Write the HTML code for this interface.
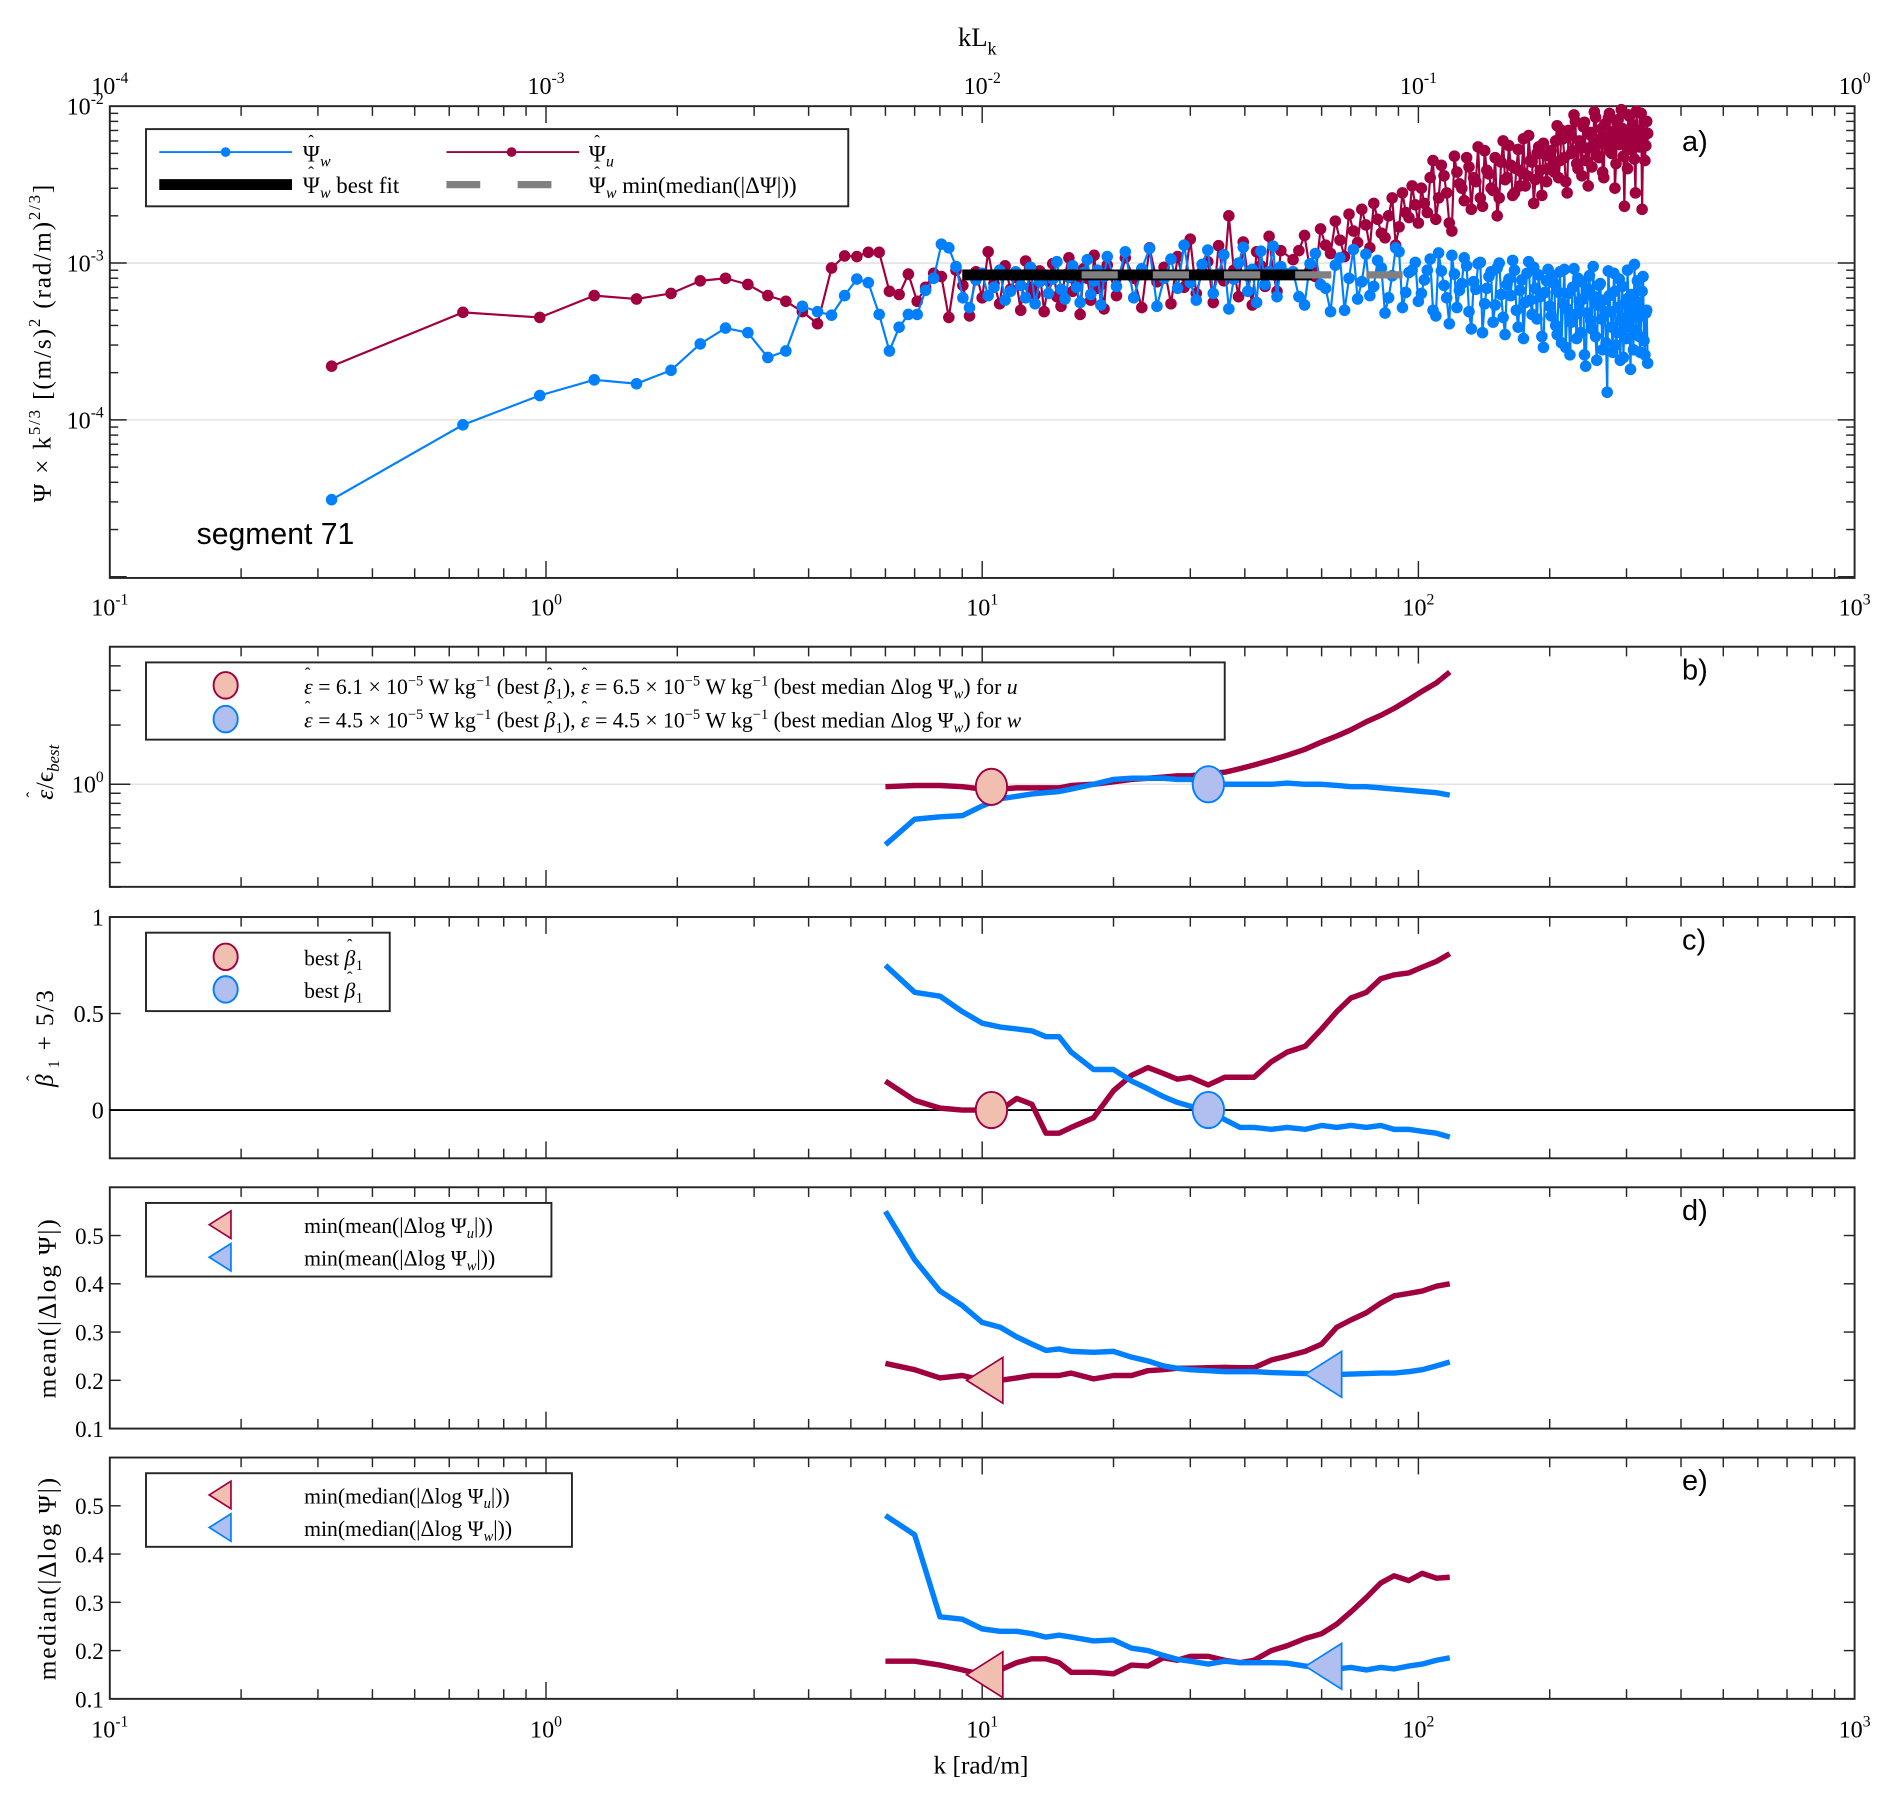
<!DOCTYPE html>
<html><head><meta charset="utf-8"><style>
html,body{margin:0;padding:0;background:#fff;}
svg{display:block;}
text{font-family:"Liberation Serif",serif;fill:#000;}
.sans{font-family:"Liberation Sans",sans-serif;}
</style></head><body>
<svg id="fig" width="1892" height="1799" viewBox="0 0 1568 1491" preserveAspectRatio="none" xmlns="http://www.w3.org/2000/svg"></svg>
<script>
// ---------- Panel a data ----------
const aIdxBlocks = [[1,60,1],[63,150,3],[160,1040,10]]; // spectral indices (k = 0.3225*n rad/m)
const aIdxBlocks2 = [[165,1035,10]];
const aBlue = [0.31,0.93,1.43,1.8,1.7,2.07,3.05,3.85,3.6,2.5,2.75,5.3,4.9,4.65,6.2,7.9,7.5,4.7,2.75,3.9,4.7,4.7,6.7,
8.0,13.2,12.5,9.5,6.0,5.2,7.8,8.6,6.2,7.0,9.0,5.8,6.6,8.8,7.2,6.0,9.4,5.5,7.6,8.4,6.4,7.9,10.2,6.8,5.9,8.1,9.6,7.0,5.6,8.7,10.5,6.3,7.7,9.0,5.4,8.2,11.0,
7.1,11.8,6.0,9.2,12.4,5.3,8.0,10.6,6.9,13.0,7.5,5.8,9.8,12.1,6.4,8.5,11.3,5.1,7.9,10.0,12.6,6.6,9.1,5.6,11.9,7.3,8.8,12.8,6.1,9.5,
8.8,5.4,11.5,6.9,9.7,5.0,12.2,7.6,6.2,10.4,4.8,8.3,11.8,6.5,9.0,5.7,
7.8,10.6,4.6,8.9,6.0,11.2,5.2,7.4,9.6,3.8,6.8,10.1,5.5,8.2,4.2,9.3,6.3,3.5,7.9,10.4,5.0,6.7,3.3,8.6,5.8,9.4,4.4,6.1,2.9,7.7,5.3,
8.3,4.0,6.5,3.1,9.1,5.1,2.6,7.0,4.7,8.0,3.6,5.9,2.2,6.8,4.3,9.5,3.4,5.4,7.4,2.8,4.9,1.5,6.2,3.9,8.6,3.0,5.2,2.4,7.1,4.1,3.3,6.0,2.1,4.6,9.8,3.7,5.6,2.7,6.6,3.2,4.8,2.3]; // units 1e-4
const aBlue2 = [6.1,9.9,7.3,4.9,10.8,8.0,5.9,11.4,7.1,9.3,6.0,12.5,5.2,8.7,10.1,
6.4,9.0,5.0,11.6,7.2,4.1,8.5,6.7,10.8,4.9,7.6,9.9,3.6,6.9,8.8,5.4,10.0,4.5,7.3,6.2,9.0,3.9,7.8,5.6,10.2,4.7,6.9,8.4,3.4,6.5,9.1,
4.6,7.4,3.5,8.8,5.5,2.9,6.4,4.2,9.2,3.3,5.7,7.6,2.6,4.8,8.3,3.8,6.1,2.4,7.2,4.4,5.8,3.1,8.9,4.9,2.7,6.6,3.6,7.9,4.3,2.5,5.5,9.0,3.9,6.3,2.8,5.1,7.7,3.4,4.6,8.2,2.6,5.0];
const aRed = [2.2,4.85,4.5,6.2,5.9,6.4,7.7,8.0,7.3,6.2,5.7,4.9,4.1,9.3,11.1,11.0,11.7,11.7,6.6,6.3,8.5,5.7,7.0,
8.6,8.2,4.5,9.0,7.2,4.6,8.8,6.0,11.8,7.4,5.5,9.6,6.8,8.1,5.0,10.3,7.0,6.3,8.9,4.9,7.7,9.9,6.1,5.3,8.4,10.8,6.6,7.5,4.7,9.2,8.0,5.8,11.2,6.9,7.3,5.1,9.7,
6.2,10.8,8.0,5.2,12.5,7.6,9.4,5.5,11.0,7.0,14.2,6.4,8.8,10.2,5.6,12.9,7.7,20.0,9.0,6.1,13.6,8.3,5.4,11.8,9.6,7.1,14.8,8.6,6.6,12.0,
10.5,15.0,8.2,13.0,18.5,11.0,16.0,22.0,12.5,19.0,14.5,26.0,17.0,21.0,31.0,18.0,
24,35,19,42,28,16,38,30,47,22,33,26,52,37,29,20,44,34,56,27,40,31,62,36,45,24,50,39,58,33,48,
42,60,35,70,47,28,65,52,80,40,58,74,45,31,68,55,85,48,62,38,77,57,90,50,66,43,82,59,72,23,64,88,53,76,46,93,61,70,22,80,56,67];
const aRed2 = [12.0,9.0,16.5,11.5,14.0,20.5,13.5,17.5,24.0,15.5,20.0,13.0,28.0,19.5,23.5,
30,21,45,26,36,18,48,32,25,41,35,55,23,39,30,47,26,60,35,42,28,53,38,31,65,44,34,55,27,49,40,
52,38,75,45,62,33,70,50,88,43,60,36,79,54,66,41,92,58,47,72,35,63,84,51,69,30,78,57,95,48,65,40,86,60,74,28,68,55,90,62,45,80];
const fitK = [9.0, 57]; const fitVal = 8.4; // 1e-4
const medK = [16.9, 92]; const medVal = 8.4;
// ---------- Panels b-e data ----------
const kSel = [6,7,8,9,10,11,12,13,14,15,16,18,20,22,24,26,28,30,33,36,39,42,46,50,55,60,65,70,76,82,88,95,102,110,118];
const bRed = [0.972,0.986,0.986,0.972,0.945,0.945,0.958,0.958,0.958,0.958,0.986,1.0,1.029,1.058,1.073,1.088,1.104,1.104,1.135,1.152,1.202,1.254,1.327,1.404,1.506,1.64,1.76,1.89,2.08,2.24,2.43,2.69,2.97,3.28,3.72];
const bBlue = [0.493,0.664,0.683,0.693,0.776,0.844,0.868,0.893,0.906,0.919,0.945,1.0,1.058,1.073,1.073,1.073,1.058,1.058,1.029,1.0,1.0,1.0,1.0,1.014,1.0,1.0,0.986,0.972,0.972,0.958,0.945,0.932,0.919,0.906,0.881];
const cBlue = [0.75,0.61,0.59,0.51,0.45,0.43,0.42,0.41,0.38,0.38,0.30,0.21,0.21,0.15,0.11,0.07,0.04,0.02,0.00,-0.05,-0.09,-0.09,-0.10,-0.09,-0.10,-0.08,-0.09,-0.08,-0.09,-0.08,-0.10,-0.10,-0.11,-0.12,-0.14];
const cRed = [0.15,0.05,0.01,0.0,0.0,0.0,0.06,0.03,-0.12,-0.12,-0.09,-0.04,0.10,0.18,0.22,0.19,0.16,0.17,0.13,0.17,0.17,0.17,0.25,0.30,0.33,0.42,0.51,0.58,0.61,0.68,0.70,0.71,0.74,0.77,0.81];
const dBlue = [0.55,0.45,0.385,0.355,0.32,0.31,0.29,0.275,0.262,0.265,0.26,0.258,0.26,0.248,0.24,0.23,0.225,0.222,0.22,0.218,0.218,0.218,0.216,0.215,0.214,0.212,0.212,0.213,0.214,0.215,0.215,0.218,0.222,0.23,0.238];
const dRed = [0.235,0.222,0.205,0.21,0.20,0.20,0.205,0.21,0.21,0.21,0.215,0.203,0.21,0.21,0.22,0.222,0.225,0.225,0.226,0.227,0.226,0.226,0.242,0.25,0.26,0.275,0.31,0.325,0.34,0.36,0.375,0.38,0.385,0.395,0.40];
const eBlue = [0.48,0.44,0.27,0.265,0.245,0.24,0.24,0.235,0.228,0.232,0.228,0.22,0.222,0.205,0.2,0.19,0.182,0.178,0.172,0.178,0.175,0.175,0.175,0.174,0.168,0.165,0.162,0.165,0.16,0.165,0.162,0.168,0.172,0.18,0.185];
const eRed = [0.178,0.178,0.17,0.16,0.15,0.16,0.175,0.183,0.183,0.175,0.155,0.155,0.152,0.17,0.168,0.185,0.18,0.188,0.188,0.18,0.175,0.18,0.2,0.21,0.225,0.235,0.255,0.28,0.31,0.34,0.355,0.345,0.36,0.35,0.352];
const markB = {uK:10.5,uV:0.97,wK:33,wV:1.0};
const markC = {uK:10.5,uV:0.0,wK:33,wV:0.0};
const markD = {uK:10.2,uV:0.2,wK:61,wV:0.2125};
const markE = {uK:10.2,uV:0.15,wK:61,wV:0.1675};

const RED='#a0003f', BLUE='#0080ff', RFILL='#f0bfb0', BFILL='#b0bff0';
const NS='http://www.w3.org/2000/svg';
const svg=document.getElementById('fig');
function mk(tag,attrs,parent){const e=document.createElementNS(NS,tag);for(const k in attrs)e.setAttribute(k,attrs[k]);(parent||svg).appendChild(e);return e;}
const L=91,R=1537;
function xk(k){return L+361.5*(Math.log10(k)+1);}
const ya=v=>88-130*(Math.log10(v)+2);
const yb=v=>650-163*Math.log10(v);
const yc=v=>920-160*v;
const yd=v=>1184-400*(v-0.1);
const ye=v=>1408-400*(v-0.1);

function frame(top,bot,name){
  const g=mk('g',{});
  
  
  for(let d=-1;d<3;d++){for(let m=1;m<10;m++){const x=xk(m*Math.pow(10,d));const len=m==1?14:8;
    mk('line',{x1:x,x2:x,y1:top,y2:top+len,stroke:'#262626','stroke-width':1.2},g);
    mk('line',{x1:x,x2:x,y1:bot,y2:bot-len,stroke:'#262626','stroke-width':1.2},g);}}
  mk('rect',{x:L,y:top,width:R-L,height:bot-top,fill:'none',stroke:'#262626','stroke-width':1.6},g);
  return g;
}
function ytick(y,len,g){mk('line',{x1:L,x2:L+len,y1:y,y2:y,stroke:'#262626','stroke-width':1.2},g);mk('line',{x1:R,x2:R-len,y1:y,y2:y,stroke:'#262626','stroke-width':1.2},g);}
function grid(y){const l=mk('line',{x1:L,x2:R,y1:y,y2:y,stroke:'#e3e3e3','stroke-width':1.3});
  
  }
function pow10(x,y,exp,anchor,name,size){size=size||20;const t=mk('text',{x:x,y:y,'font-size':size,'text-anchor':anchor||'middle'});
  
  
  t.innerHTML='10<tspan font-size="'+(size*0.65)+'" dy="-9">'+exp+'</tspan>';return t;}
function label(x,y,txt,size,name,extra){const t=mk('text',Object.assign({x:x,y:y,'font-size':size},extra||{}));
  
  
  t.innerHTML=txt;return t;}
function poly(xs,ys,col,w,name){let d='';for(let i=0;i<xs.length;i++)d+=(i?'L':'M')+xs[i].toFixed(1)+','+ys[i].toFixed(1);
  const p=mk('path',{d:d,fill:'none',stroke:col,'stroke-width':w,'stroke-linejoin':'round'});
  
  
  return p;}
function circ(x,y,fill,stroke,name,rx,ry){const c=mk('ellipse',{cx:x,cy:y,rx:rx||13,ry:ry||15,fill:fill,stroke:stroke,'stroke-width':1.6});
  
  }
function tri(x,y,fill,stroke,name,s){s=s||1;const p=mk('polygon',{points:(x-16*s)+','+y+' '+(x+14*s)+','+(y-19*s)+' '+(x+14*s)+','+(y+19*s),fill:fill,stroke:stroke,'stroke-width':1.4});
  
  }
function legendBox(x,y,w,h,name){const r=mk('rect',{x:x,y:y,width:w,height:h,fill:'#fff',stroke:'#262626','stroke-width':1.6});
  
  }
// hat accent over a glyph; the trailing hair space carries the dy back to baseline
function hat(ch,back,fwd,italic){return (italic?'<tspan font-style="italic">'+ch+'</tspan>':ch)+'<tspan font-size="14" dx="'+(-back)+'" dy="-12">&#710;</tspan><tspan dx="'+fwd+'" dy="12">&#8202;</tspan>';}
const PW=hat('&#936;',9.5,3.5);
const EPS=hat('&#949;',6.5,0.5,true);
const BETA=hat('&#946;',7,1.2,true);

// ---------- Panel a ----------
grid(ya(1e-3)); grid(ya(1e-4));
const ga=frame(88,479,'panel-a');
for(let d=-5;d<-2;d++){for(let m=1;m<10;m++){const v=m*Math.pow(10,d);ytick(ya(v),m==1?14:7,ga);}}
[['-1',0.1],['0',1],['1',10],['2',100],['3',1000]].forEach(([e,k])=>pow10(xk(k),510,e,'middle','x-tick-label-a'));
[['-4',0.1],['-3',1],['-2',10],['-1',100],['0',1000]].forEach(([e,k])=>pow10(xk(k),78,e,'middle','top-x-tick-label'));
[['-2',1e-2],['-3',1e-3],['-4',1e-4]].forEach(([e,v])=>pow10(86,ya(v)+7,e,'end','y-tick-label-a'));
label(794,38,'kL<tspan font-size="15" dy="7">k</tspan>',22,'top-x-axis-title');
label(0,0,'&#936; &#215; k<tspan font-size="14" dy="-9">5/3</tspan><tspan dy="9"> [(m/s)</tspan><tspan font-size="14" dy="-9">2</tspan><tspan dy="9"> (rad/m)</tspan><tspan font-size="14" dy="-9">2/3</tspan><tspan dy="9">]</tspan>',21,'y-axis-title-a',{transform:'translate(42,284) rotate(-90)','text-anchor':'middle','letter-spacing':'1.5'});

function buildIdx(blocks){const a=[];blocks.forEach(([s,e,st])=>{for(let n=s;n<=e;n+=st)a.push(n);});return a;}
const n1=buildIdx(aIdxBlocks), n2=buildIdx(aIdxBlocks2);
function merge(v1,v2){const pts=n1.map((n,i)=>[n,v1[i]]).concat(n2.map((n,i)=>[n,v2[i]]));pts.sort((a,b)=>a[0]-b[0]);return pts;}
function spectrum(v1,v2,col,name){const pts=merge(v1,v2);const xs=pts.map(p=>xk(p[0]*0.3225)),ys=pts.map(p=>ya(p[1]*1e-4));poly(xs,ys,col,1.8,name+'-line');
  const g=mk('g',{fill:col});
  
  
  for(let i=0;i<xs.length;i++){const c=mk('circle',{cx:xs[i],cy:ys[i],r:4.8},g);
    
    }}
spectrum(aRed,aRed2,RED,'psi-u');
spectrum(aBlue,aBlue2,BLUE,'psi-w');
const fl=mk('line',{x1:xk(fitK[0]),x2:xk(fitK[1]),y1:ya(fitVal*1e-4),y2:ya(fitVal*1e-4),stroke:'#000','stroke-width':9});


const ml=mk('line',{x1:xk(medK[0]),x2:xk(medK[1]),y1:ya(medVal*1e-4),y2:ya(medVal*1e-4),stroke:'#808080','stroke-width':6,'stroke-dasharray':'30 29'});


legendBox(121,107,582,64,'legend-a');
const la=mk('g',{});


mk('line',{x1:132,x2:242,y1:126,y2:126,stroke:BLUE,'stroke-width':1.6},la);mk('circle',{cx:187,cy:126,r:4,fill:BLUE},la);
mk('line',{x1:370,x2:480,y1:126,y2:126,stroke:RED,'stroke-width':1.6},la);mk('circle',{cx:424,cy:126,r:4,fill:RED},la);
mk('line',{x1:132,x2:242,y1:153,y2:153,stroke:'#000','stroke-width':9},la);
mk('line',{x1:370,x2:457,y1:153,y2:153,stroke:'#808080','stroke-width':6,'stroke-dasharray':'28 31'},la);
label(251,134,PW+'<tspan font-style="italic" font-size="13" dy="4">w</tspan>',19,'legend-psi-w');
label(488,134,PW+'<tspan font-style="italic" font-size="13" dy="4">u</tspan>',19,'legend-psi-u');
label(251,160,PW+'<tspan font-style="italic" font-size="13" dy="4">w</tspan><tspan dy="-4"> best fit</tspan>',19,'legend-best-fit');
label(488,160,PW+'<tspan font-style="italic" font-size="13" dy="4">w</tspan><tspan dy="-4"> min(median(|&#916;&#936;|))</tspan>',19,'legend-min-median');
label(1394,125,'a)',24,'panel-label-a',{class:'sans'});
label(163,451,'segment 71',25,'segment-label',{class:'sans'});

// ---------- Panel b ----------
grid(yb(1));
const gb=frame(536,735,'panel-b');
[0.3,0.4,0.5,0.6,0.7,0.8,0.9,1,2,3,4,5].forEach(v=>ytick(yb(v),v==1?17:9,gb));
pow10(86,yb(1)+7,'0','end','y-tick-label-b');
label(0,0,EPS+'/&#1013;<tspan font-style="italic" font-size="14" dy="5">best</tspan>',21,'y-axis-title-b',{transform:'translate(44,640) rotate(-90)','text-anchor':'middle'});
const kx=kSel.map(xk);
poly(kx,bRed.map(yb),RED,4.5,'b-u-curve');
poly(kx,bBlue.map(yb),BLUE,4.5,'b-w-curve');
circ(xk(markB.uK),yb(markB.uV),RFILL,RED,'b-u-best-marker');
circ(xk(markB.wK),yb(markB.wV),BFILL,BLUE,'b-w-best-marker');
legendBox(121,549,894,64,'legend-b');
circ(187,568,RFILL,RED,'legend-b-u-marker',10,11);
circ(187,596,BFILL,BLUE,'legend-b-w-marker',10,11);
function bText(a,b,who){return EPS+' = '+a+' &#215; 10<tspan font-size="12" dy="-7">&#8722;5</tspan><tspan dy="7"> W kg</tspan><tspan font-size="12" dy="-7">&#8722;1</tspan><tspan dy="7"> (best </tspan>'+BETA+'<tspan font-size="12" dy="4">1</tspan><tspan dy="-4">), </tspan>'+EPS+' = '+b+' &#215; 10<tspan font-size="12" dy="-7">&#8722;5</tspan><tspan dy="7"> W kg</tspan><tspan font-size="12" dy="-7">&#8722;1</tspan><tspan dy="7"> (best median &#916;log &#936;</tspan><tspan font-style="italic" font-size="12" dy="4">w</tspan><tspan dy="-4">) for </tspan><tspan font-style="italic">'+who+'</tspan>';}
label(252,575,bText('6.1','6.5','u'),18,'legend-b-u-text');
label(252,603,bText('4.5','4.5','w'),18,'legend-b-w-text');
label(1394,563,'b)',24,'panel-label-b',{class:'sans'});

// ---------- Panel c ----------
const gc=frame(760,960,'panel-c');
[0,0.5,1].forEach(v=>ytick(yc(v),9,gc));
[['0',0],['0.5',0.5],['1',1]].forEach(([t,v])=>label(86,yc(v)+7,t,20,'y-tick-label-c',{'text-anchor':'end'}));
const zl=mk('line',{x1:L,x2:R,y1:yc(0),y2:yc(0),stroke:'#000','stroke-width':1.6});


label(0,0,BETA+'<tspan font-size="13" dy="5">1</tspan><tspan dy="-5"> + 5/3</tspan>',21,'y-axis-title-c',{transform:'translate(44,860) rotate(-90)','text-anchor':'middle','letter-spacing':'1.5'});
poly(kx,cRed.map(yc),RED,4.5,'c-u-curve');
poly(kx,cBlue.map(yc),BLUE,4.5,'c-w-curve');
circ(xk(markC.uK),yc(markC.uV),RFILL,RED,'c-u-best-marker');
circ(xk(markC.wK),yc(markC.wV),BFILL,BLUE,'c-w-best-marker');
legendBox(121,773,202,65,'legend-c');
circ(187,793,RFILL,RED,'legend-c-u-marker',10,11);
circ(187,820,BFILL,BLUE,'legend-c-w-marker',10,11);
label(252,800,'best '+BETA+'<tspan font-size="12" dy="4">1</tspan>',18,'legend-c-u-text');
label(252,827,'best '+BETA+'<tspan font-size="12" dy="4">1</tspan>',18,'legend-c-w-text');
label(1394,787,'c)',24,'panel-label-c',{class:'sans'});

// ---------- Panels d, e ----------
function lowerPanel(top,bot,yf,red,blue,mark,id,title,lbl,lw){
  const g=frame(top,bot,'panel-'+id);
  [0.1,0.2,0.3,0.4,0.5].forEach(v=>{ytick(yf(v),9,g);label(86,yf(v)+7,v.toFixed(1),19,'y-tick-label-'+id,{'text-anchor':'end'});});
  label(0,0,title,21,'y-axis-title-'+id,{transform:'translate(46,'+((top+bot)/2)+') rotate(-90)','text-anchor':'middle','letter-spacing':'1.5'});
  poly(kx,red.map(yf),RED,4.5,id+'-u-curve');
  poly(kx,blue.map(yf),BLUE,4.5,id+'-w-curve');
  tri(xk(mark.uK),yf(mark.uV),RFILL,RED,id+'-u-min-marker');
  tri(xk(mark.wK),yf(mark.wV),BFILL,BLUE,id+'-w-min-marker');
  legendBox(121,top+13,lw,61,'legend-'+id);
  tri(183,top+31,RFILL,RED,'legend-'+id+'-u-marker',0.6);
  tri(183,top+58,BFILL,BLUE,'legend-'+id+'-w-marker',0.6);
  label(252,top+38,lbl+'(|&#916;log &#936;<tspan font-style="italic" font-size="12" dy="4">u</tspan><tspan dy="-4">|))</tspan>',18,'legend-'+id+'-u-text');
  label(252,top+65,lbl+'(|&#916;log &#936;<tspan font-style="italic" font-size="12" dy="4">w</tspan><tspan dy="-4">|))</tspan>',18,'legend-'+id+'-w-text');
  label(1394,top+27,id+')',24,'panel-label-'+id,{class:'sans'});
}
lowerPanel(984,1184,yd,dRed,dBlue,markD,'d','mean(|&#916;log &#936;|)','min(mean',336);
lowerPanel(1208,1408,ye,eRed,eBlue,markE,'e','median(|&#916;log &#936;|)','min(median',353);
[['-1',0.1],['0',1],['1',10],['2',100],['3',1000]].forEach(([e,k])=>pow10(xk(k),1440,e,'middle','x-tick-label-e'));
label(813,1470,'k [rad/m]',21,'x-axis-title',{'text-anchor':'middle'});
</script>
</body></html>
